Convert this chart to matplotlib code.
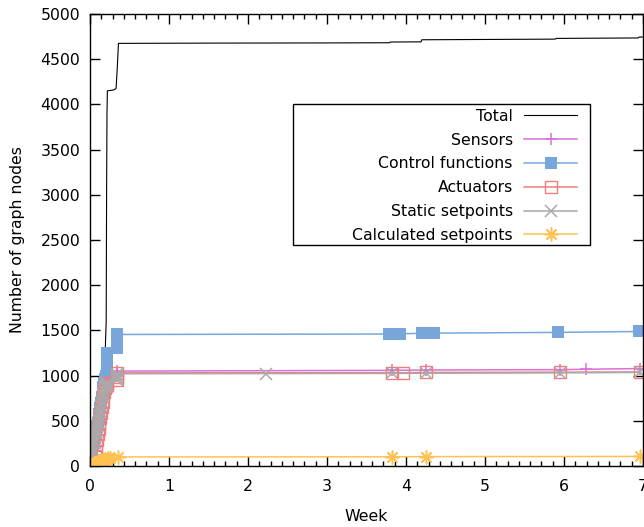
import numpy as np
import matplotlib.pyplot as plt
from matplotlib.patches import Rectangle
from matplotlib.ticker import MultipleLocator

# data (weeks, number of graph nodes)
total_weeks = [0.00, 0.02, 0.05, 0.08, 0.10, 0.13, 0.16, 0.19, 0.205, 0.21,
               0.215, 0.22, 0.30, 0.33, 0.345, 0.36, 1.50, 3.00, 3.79, 3.80,
               4.19, 4.20, 5.89, 5.90, 6.94, 6.95, 7.00]
total_nodes = [0, 150, 300, 500, 700, 720, 900, 1200, 1600, 3000,
               3900, 4150, 4160, 4175, 4400, 4675, 4678, 4680, 4682, 4690,
               4692, 4715, 4722, 4730, 4735, 4745, 4745]

sensor_weeks = [0.02, 0.04, 0.06, 0.08, 0.10, 0.12, 0.14, 0.16, 0.18, 0.20,
                0.215, 0.215, 0.345, 0.345, 0.345, 3.82, 4.25, 5.95, 6.28,
                6.96]
sensor_nodes = [50, 120, 200, 300, 400, 520, 650, 780, 880, 930,
                950, 980, 1000, 1030, 1050, 1058, 1062, 1066, 1070,
                1078]

control_weeks = [0.01, 0.02, 0.03, 0.04, 0.05, 0.06, 0.07, 0.08, 0.09, 0.10,
                 0.11, 0.12, 0.13, 0.14, 0.15, 0.16, 0.17, 0.18, 0.19, 0.20,
                 0.215, 0.215, 0.215, 0.215, 0.345, 0.345, 0.345, 0.345,
                 0.345, 3.78, 3.92, 4.20, 4.35, 5.92, 6.95]
control_nodes = [180, 200, 220, 250, 280, 310, 350, 390, 430, 480,
                 530, 580, 640, 700, 760, 820, 870, 920, 960, 1000,
                 1040, 1100, 1180, 1250, 1300, 1340, 1380, 1420, 1455,
                 1460, 1462, 1468, 1470, 1478, 1488]

actuator_weeks = [0.02, 0.03, 0.04, 0.05, 0.06, 0.07, 0.08, 0.09, 0.10, 0.11,
                  0.12, 0.13, 0.14, 0.15, 0.16, 0.17, 0.18, 0.19, 0.20, 0.215,
                  0.215, 0.345, 0.345, 0.345, 3.82, 3.96, 4.25, 5.95, 6.96]
actuator_nodes = [0, 0, 20, 60, 110, 170, 230, 290, 350, 410,
                  470, 530, 590, 650, 710, 770, 820, 860, 890, 900,
                  920, 950, 990, 1030, 1032, 1032, 1035, 1038, 1040]

static_weeks = [0.00, 0.01, 0.02, 0.03, 0.04, 0.05, 0.06, 0.07, 0.08, 0.09,
                0.10, 0.11, 0.12, 0.13, 0.14, 0.15, 0.16, 0.17, 0.18, 0.19,
                0.20, 0.215, 0.215, 0.345, 0.345, 0.345, 0.345, 2.23, 3.82,
                4.25, 5.95, 6.96]
static_nodes = [100, 130, 160, 200, 240, 280, 320, 360, 400, 440,
                480, 520, 560, 610, 660, 710, 760, 800, 840, 870,
                890, 900, 920, 950, 975, 1000, 1020, 1022, 1024,
                1026, 1030, 1035]

calc_weeks = [0.01, 0.02, 0.03, 0.04, 0.05, 0.06, 0.07, 0.08, 0.09, 0.10,
              0.11, 0.12, 0.13, 0.14, 0.15, 0.17, 0.19, 0.21, 0.23, 0.25,
              0.35, 3.82, 4.25, 6.96]
calc_nodes = [0, 5, 10, 15, 20, 25, 30, 35, 40, 45,
              50, 55, 58, 60, 65, 70, 75, 80, 85, 90,
              100, 102, 104, 106]

plt.rcParams['font.family'] = 'DejaVu Sans'
plt.rcParams['font.size'] = 11.3

fig = plt.figure(figsize=(6.44, 5.27), dpi=100)
ax = fig.add_axes([90 / 644, 1 - 466 / 527, 553 / 644, 452 / 527])

ax.plot(total_weeks, total_nodes, color='black', lw=0.8, label='Total')
ax.plot(sensor_weeks, sensor_nodes, color='#d870d8', lw=1.1, marker='+',
        ms=9, mew=1.1, label='Sensors')
ax.plot(control_weeks, control_nodes, color='#78a6da', lw=1.1, marker='s',
        ms=8.5, mew=0, label='Control functions')
ax.plot(actuator_weeks, actuator_nodes, color='#f07c7c', lw=1.1, marker='s',
        ms=8.5, mfc='none', mew=1.0, label='Actuators')
ax.plot(static_weeks, static_nodes, color='#aaaaaa', lw=1.1, marker='x',
        ms=8, mew=1.1, label='Static setpoints')
ax.plot(calc_weeks, calc_nodes, color='#ffc252', lw=1.1, marker=(8, 2, 0),
        ms=10, mew=1.1, label='Calculated setpoints')

ax.set_xlim(0, 7)
ax.set_ylim(0, 5000)
ax.xaxis.set_major_locator(MultipleLocator(1))
ax.xaxis.set_minor_locator(MultipleLocator(1 / 7))
ax.yaxis.set_major_locator(MultipleLocator(500))
ax.tick_params(which='both', direction='in', top=True, right=True, width=1)
ax.tick_params(which='major', length=7)
ax.tick_params(which='minor', length=3.5)
ax.tick_params(axis='y', pad=7)
ax.tick_params(axis='x', pad=9.5)
for sp in ax.spines.values():
    sp.set_linewidth(1)

ax.set_xlabel('Week')
ax.set_ylabel('Number of graph nodes')
ax.xaxis.set_label_coords(0.5, -0.096)
ax.yaxis.set_label_coords(-0.118, 0.5)

# legend box like gnuplot's key
ax.add_patch(Rectangle((0.367, 0.489), 0.537, 0.312, transform=ax.transAxes,
                       fill=False, lw=1, ec='black', zorder=5))
ax.legend(loc='upper right', bbox_to_anchor=(0.881, 0.790), frameon=False,
          markerfirst=False, borderpad=0, handlelength=3.4,
          handletextpad=0.7, labelspacing=0.56, borderaxespad=0)

plt.savefig('out.png', dpi=100)
